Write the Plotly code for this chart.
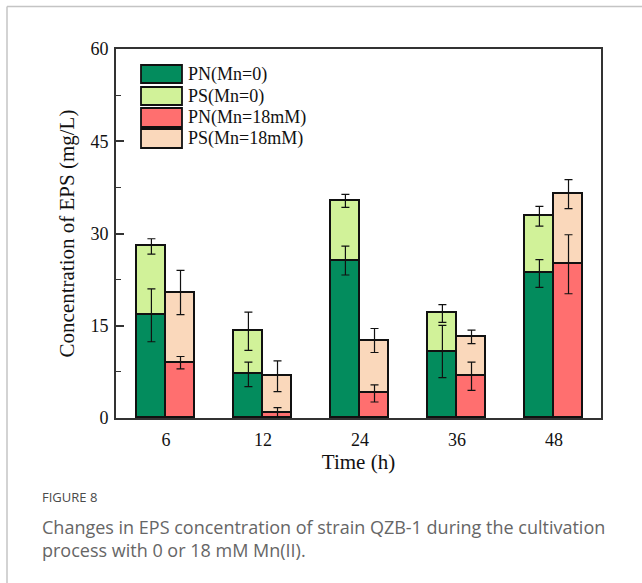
import plotly.graph_objects as go

# Sampling times (h) and EPS components (mg/L)
times = ["6", "12", "24", "36", "48"]

pn_mn0 = [16.7, 7.1, 25.6, 10.8, 23.5]
pn_mn0_err = [4.3, 2.0, 2.35, 4.25, 2.25]
ps_mn0 = [11.2, 7.0, 9.7, 6.2, 9.3]
ps_mn0_err = [1.25, 3.1, 1.05, 1.45, 1.6]

pn_mn18 = [9.0, 0.8, 4.0, 6.8, 25.0]
pn_mn18_err = [1.0, 0.9, 1.4, 2.3, 4.8]
ps_mn18 = [11.4, 6.0, 8.6, 6.4, 11.4]
ps_mn18_err = [3.6, 2.5, 1.95, 1.1, 2.35]

series_names = ["PN(Mn=0)", "PS(Mn=0)", "PN(Mn=18mM)", "PS(Mn=18mM)"]
colors = ["#038c5d", "#d1f299", "#ff6f6f", "#fad8bb"]

SERIF = "Liberation Serif, Times New Roman, serif"
SANS = "Open Sans, Noto Sans, sans-serif"

idx = list(range(len(times)))
bar_w = 0.3
x_left = [i - bar_w / 2 for i in idx]
x_right = [i + bar_w / 2 for i in idx]

fig = go.Figure()


def add_segment(x, y, color, name):
    fig.add_trace(go.Bar(
        x=x, y=y, width=bar_w, name=name,
        marker=dict(color=color, line=dict(color="#111111", width=1.8)),
        showlegend=False,
    ))


def add_errors(x, base, seg, err):
    # error bars sit at the top of each stacked segment, drawn above all bars
    tops = [b + s for b, s in zip(base, seg)]
    fig.add_trace(go.Scatter(
        x=x, y=tops, mode="markers",
        marker=dict(size=1, opacity=0),
        error_y=dict(type="data", array=err, visible=True,
                     color="#111111", thickness=1.2, width=4),
        showlegend=False, hoverinfo="skip",
    ))


add_segment(x_left, pn_mn0, colors[0], series_names[0])
add_segment(x_left, ps_mn0, colors[1], series_names[1])
add_segment(x_right, pn_mn18, colors[2], series_names[2])
add_segment(x_right, ps_mn18, colors[3], series_names[3])

zeros = [0] * len(times)
add_errors(x_left, zeros, pn_mn0, pn_mn0_err)
add_errors(x_left, pn_mn0, ps_mn0, ps_mn0_err)
add_errors(x_right, zeros, pn_mn18, pn_mn18_err)
add_errors(x_right, pn_mn18, ps_mn18, ps_mn18_err)

# Figure geometry in pixels
W, H = 642, 583
L, R, T, B = 116, 601, 49, 418
pw, ph = R - L, B - T


def px(x):
    return (x - L) / pw


def py(y):
    return (B - y) / ph


shapes = []
annotations = []

# Legend drawn as swatches with labels
legend_rows = [(65, 83), (87, 105), (108, 127), (129, 148)]
for (y0, y1), name, col in zip(legend_rows, series_names, colors):
    shapes.append(dict(type="rect", xref="paper", yref="paper",
                       x0=px(141), x1=px(182), y0=py(y1), y1=py(y0),
                       fillcolor=col, line=dict(color="#111111", width=1.8)))
    annotations.append(dict(x=px(186), y=py((y0 + y1) / 2), xref="paper", yref="paper",
                            text=name, showarrow=False, xanchor="left", yanchor="middle",
                            font=dict(family=SERIF, size=18, color="#111111")))

# Outer frame lines around the figure panel
shapes.append(dict(type="line", xref="paper", yref="paper",
                   x0=px(7), x1=px(660), y0=py(6.5), y1=py(6.5),
                   line=dict(color="#c4c4c4", width=1.5)))
shapes.append(dict(type="line", xref="paper", yref="paper",
                   x0=px(7), x1=px(7), y0=py(6.5), y1=py(600),
                   line=dict(color="#c4c4c4", width=1.5)))

# Caption
annotations.append(dict(x=px(40), y=py(497), xref="paper", yref="paper",
                        text="FIGURE 8", showarrow=False, xanchor="left", yanchor="middle",
                        font=dict(family=SANS, size=13, color="#4a4a4a")))
annotations.append(dict(x=px(40), y=py(527), xref="paper", yref="paper",
                        text="Changes in EPS concentration of strain QZB-1 during the cultivation",
                        showarrow=False, xanchor="left", yanchor="middle",
                        font=dict(family=SANS, size=18, color="#666666")))
annotations.append(dict(x=px(40), y=py(550), xref="paper", yref="paper",
                        text="process with 0 or 18 mM Mn(II).",
                        showarrow=False, xanchor="left", yanchor="middle",
                        font=dict(family=SANS, size=18, color="#666666")))

fig.update_layout(
    width=W, height=H,
    margin=dict(l=L, r=W - R, t=T, b=H - B),
    paper_bgcolor="white", plot_bgcolor="white",
    barmode="stack",
    bargap=0,
    shapes=shapes,
    annotations=annotations,
    showlegend=False,
    xaxis=dict(
        range=[-0.515, 4.485],
        tickmode="array", tickvals=idx, ticktext=times,
        ticks="", showgrid=False, zeroline=False,
        showline=True, linecolor="#333333", linewidth=2, mirror=True,
        tickfont=dict(family=SERIF, size=18, color="#111111"),
        ticklabelstandoff=4,
        title=dict(text="Time (h)", font=dict(family=SERIF, size=21, color="#111111"), standoff=5),
    ),
    yaxis=dict(
        range=[0, 60],
        tickmode="linear", tick0=0, dtick=15,
        ticks="inside", ticklen=8, tickwidth=1.5, tickcolor="#333333",
        minor=dict(ticks="inside", ticklen=5, tickwidth=1.2, tickcolor="#333333", dtick=7.5, showgrid=False),
        showgrid=False, zeroline=False,
        showline=True, linecolor="#333333", linewidth=2, mirror=True,
        tickfont=dict(family=SERIF, size=18, color="#111111"),
        ticklabelstandoff=2,
        title=dict(text="Concentration of EPS (mg/L)", font=dict(family=SERIF, size=21, color="#111111"), standoff=10),
    ),
)

fig.write_html("out.html")
